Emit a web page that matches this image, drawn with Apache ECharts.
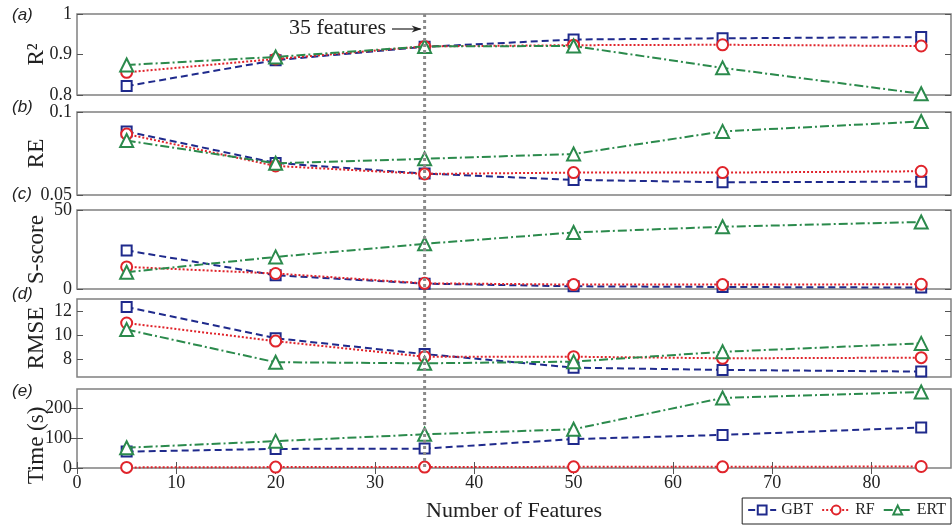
<!DOCTYPE html>
<html>
<head>
<meta charset="utf-8">
<script src="https://cdn.jsdelivr.net/npm/echarts@6/dist/echarts.min.js"></script>
<style>
html, body { margin: 0; padding: 0; background: #fff; }
#main { width: 952px; height: 526px; }
</style>
</head>
<body>
<div id="main"></div>
<script>
// number of features on the x axis
var features = [5, 20, 35, 50, 65, 85];
var xTicks = [0, 10, 20, 30, 40, 50, 60, 70, 80];

// (a) R2
var r2GBT = [0.822, 0.886, 0.919, 0.937, 0.940, 0.943];
var r2RF  = [0.856, 0.889, 0.920, 0.923, 0.924, 0.921];
var r2ERT = [0.874, 0.894, 0.920, 0.921, 0.867, 0.803];
var r2Ticks = [0.8, 0.9, 1];

// (b) RE
var reGBT = [0.0883, 0.0693, 0.0629, 0.0591, 0.0577, 0.0580];
var reRF  = [0.0867, 0.0675, 0.0627, 0.0635, 0.0635, 0.0643];
var reERT = [0.0828, 0.0691, 0.0718, 0.0747, 0.0883, 0.0943];
var reTicks = [0.05, 0.1];

// (c) S-score
var ssGBT = [24.4, 8.7, 3.4, 1.7, 1.3, 0.9];
var ssRF  = [14.0, 9.8, 3.6, 2.8, 2.8, 3.0];
var ssERT = [10.6, 20.3, 28.6, 35.8, 39.4, 42.4];
var ssTicks = [0, 50];

// (d) RMSE
var rmGBT = [12.33, 9.73, 8.41, 7.28, 7.09, 6.95];
var rmRF  = [11.0, 9.49, 8.19, 8.19, 8.06, 8.11];
var rmERT = [10.45, 7.73, 7.64, 7.78, 8.6, 9.3];
var rmTicks = [8, 10, 12];

// (e) Time (s)
var tGBT = [55, 64, 65, 97, 111, 136];
var tRF  = [2, 3, 3, 4, 4, 5];
var tERT = [68, 90, 113, 130, 235, 255];
var tTicks = [0, 100, 200];

var colGBT = '#1f2a8c';
var colRF = '#e0242b';
var colERT = '#2b8a4c';
var serif = 'Liberation Serif';

var panels = [
    { letter: '(a)', name: 'R\u00B2', min: 0.8, max: 1, ticks: r2Ticks, top: 14, height: 81, data: [r2GBT, r2RF, r2ERT], letterY: 17, shift: 0 },
    { letter: '(b)', name: 'RE', min: 0.05, max: 0.1, ticks: reTicks, top: 112, height: 83, data: [reGBT, reRF, reERT], letterY: 109, shift: 0 },
    { letter: '(c)', name: 'S-score', min: 0, max: 50, ticks: ssTicks, top: 210, height: 79, data: [ssGBT, ssRF, ssERT], letterY: 196, shift: 0 },
    { letter: '(d)', name: 'RMSE', min: 6.5, max: 13, ticks: rmTicks, top: 299, height: 78, data: [rmGBT, rmRF, rmERT], letterY: 296, shift: 0 },
    { letter: '(e)', name: 'Time (s)', min: 0, max: 265, ticks: tTicks, top: 389, height: 79, data: [tGBT, tRF, tERT], letterY: 393, shift: 34 }
];

var seriesStyle = [
    { name: 'GBT', color: colGBT, symbol: 'emptyRect', size: 10, dash: [7, 4] },
    { name: 'RF', color: colRF, symbol: 'emptyCircle', size: 11, dash: [2, 2] },
    { name: 'ERT', color: colERT, symbol: 'emptyTriangle', size: 13, dash: [9, 3, 2, 3] }
];

function pairs(vals) {
    return features.map(function (f, i) { return [f, vals[i]]; });
}

var grids = [], xAxes = [], yAxes = [], series = [];
panels.forEach(function (p, i) {
    var last = i === panels.length - 1;
    grids.push({
        left: 77, right: 1, top: p.top, height: p.height,
        show: true, borderColor: '#808080', borderWidth: 1.5
    });
    xAxes.push({
        gridIndex: i, type: 'value', min: 0, max: 88,
        axisLine: { show: false },
        splitLine: { show: false },
        axisTick: { show: last, inside: true, length: 6, customValues: xTicks, lineStyle: { color: '#555' } },
        axisLabel: { show: last, customValues: xTicks, margin: 6, fontFamily: serif, fontSize: 18, color: '#222' },
        name: last ? 'Number of Features' : '',
        nameLocation: 'middle', nameGap: 32, nameMoveOverlap: false,
        nameTextStyle: { fontFamily: serif, fontSize: 22, color: '#222' }
    });
    if (last) {
        // ticks along the top edge of panel (e)
        xAxes.push({
            gridIndex: i, type: 'value', min: 0, max: 88, position: 'top',
            axisLine: { show: false }, splitLine: { show: false },
            axisTick: { show: true, inside: true, length: 6, customValues: xTicks, lineStyle: { color: '#555' } },
            axisLabel: { show: false }
        });
    }
    yAxes.push({
        gridIndex: i, type: 'value', min: p.min, max: p.max,
        axisLine: { show: false },
        splitLine: { show: false },
        axisTick: { show: true, inside: true, length: 6, customValues: p.ticks, lineStyle: { color: '#555' } },
        axisLabel: { customValues: p.ticks, margin: 5, fontFamily: serif, fontSize: 18, color: '#222' },
        name: p.name, nameLocation: 'middle', nameGap: 29, nameRotate: 90, nameMoveOverlap: false,
        nameTextStyle: { fontFamily: serif, fontSize: 23, color: '#222', padding: [0, p.shift, 0, 0] }
    });
    yAxes.push({
        gridIndex: i, type: 'value', min: p.min, max: p.max, position: 'right',
        axisLine: { show: false }, splitLine: { show: false },
        axisTick: { show: true, inside: true, length: 6, customValues: p.ticks, lineStyle: { color: '#555' } },
        axisLabel: { show: false }
    });
    seriesStyle.forEach(function (s, k) {
        series.push({
            name: s.name, type: 'line',
            xAxisIndex: i, yAxisIndex: i * 2,
            data: pairs(p.data[k]),
            symbol: s.symbol, symbolSize: s.size,
            color: s.color,
            lineStyle: { width: 2, type: s.dash, color: s.color },
            itemStyle: { color: s.color, borderColor: s.color, borderWidth: 2 },
            z: 3 + k
        });
    });
});

var option = {
    animation: false,
    backgroundColor: '#fff',
    grid: grids,
    xAxis: xAxes,
    yAxis: yAxes,
    series: series,
    legend: {
        data: ['GBT', 'RF', 'ERT'],
        right: 1, top: 498,
        borderColor: '#222', borderWidth: 1,
        padding: [4, 5, 6, 5],
        itemGap: 8, itemWidth: 28, itemHeight: 11,
        textStyle: { fontFamily: serif, fontSize: 16, color: '#222' }
    }
};

var chart = echarts.init(document.getElementById('main'));
chart.setOption(option);

// vertical marker at 35 features, running through every panel
var mx = chart.convertToPixel({ xAxisIndex: 0 }, 35);
var yTop = chart.convertToPixel({ yAxisIndex: 0 }, panels[0].max);
var yBot = chart.convertToPixel({ yAxisIndex: 8 }, panels[4].min);

var graphics = panels.map(function (p) {
    return {
        type: 'text', left: 12, top: p.letterY - 10,
        style: { text: p.letter, font: 'italic 17px "Liberation Sans"', fill: '#222' }
    };
});
graphics.push({
    type: 'line', shape: { x1: mx, y1: yTop, x2: mx, y2: yBot },
    style: { stroke: '#8a8a8a', lineWidth: 3, lineDash: [3, 3] }, z: 10
});
graphics.push({
    type: 'text', x: 386, y: 28,
    style: { text: '35 features', font: '22px "Liberation Serif"', fill: '#222', align: 'right', verticalAlign: 'middle' }
});
graphics.push({
    type: 'line', shape: { x1: 392, y1: 29, x2: mx - 4, y2: 29 },
    style: { stroke: '#222', lineWidth: 1.2 }
});
graphics.push({
    type: 'polygon', shape: { points: [[mx - 3, 29], [mx - 13, 25.5], [mx - 10, 29], [mx - 13, 32.5]] },
    style: { fill: '#222' }
});
chart.setOption({ graphic: graphics });
</script>
</body>
</html>
